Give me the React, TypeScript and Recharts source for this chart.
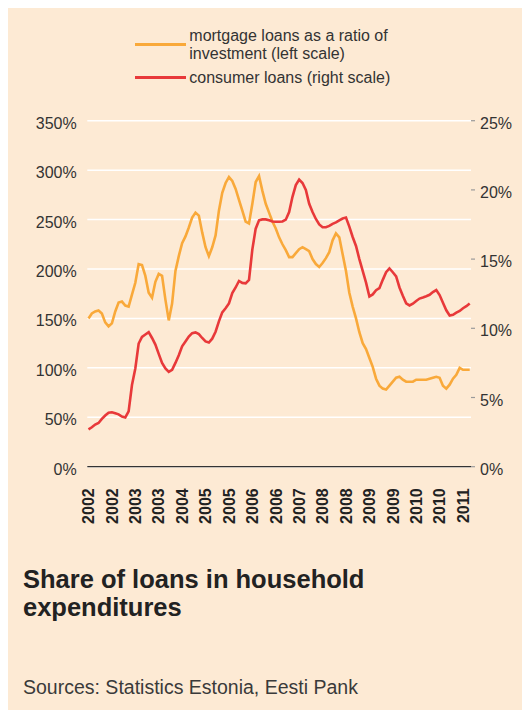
import React from "react";
import { LineChart, Line, XAxis, YAxis, CartesianGrid } from "recharts";

// Monthly observations, March 2002 – September 2011
const months: string[] = [
  "2002-03","2002-04","2002-05","2002-06","2002-07","2002-08","2002-09","2002-10","2002-11","2002-12",
  "2003-01","2003-02","2003-03","2003-04","2003-05","2003-06","2003-07","2003-08","2003-09","2003-10","2003-11","2003-12",
  "2004-01","2004-02","2004-03","2004-04","2004-05","2004-06","2004-07","2004-08","2004-09","2004-10","2004-11","2004-12",
  "2005-01","2005-02","2005-03","2005-04","2005-05","2005-06","2005-07","2005-08","2005-09","2005-10","2005-11","2005-12",
  "2006-01","2006-02","2006-03","2006-04","2006-05","2006-06","2006-07","2006-08","2006-09","2006-10","2006-11","2006-12",
  "2007-01","2007-02","2007-03","2007-04","2007-05","2007-06","2007-07","2007-08","2007-09","2007-10","2007-11","2007-12",
  "2008-01","2008-02","2008-03","2008-04","2008-05","2008-06","2008-07","2008-08","2008-09","2008-10","2008-11","2008-12",
  "2009-01","2009-02","2009-03","2009-04","2009-05","2009-06","2009-07","2009-08","2009-09","2009-10","2009-11","2009-12",
  "2010-01","2010-02","2010-03","2010-04","2010-05","2010-06","2010-07","2010-08","2010-09","2010-10","2010-11","2010-12",
  "2011-01","2011-02","2011-03","2011-04","2011-05","2011-06","2011-07","2011-08","2011-09",
];

// mortgage loans as a ratio of investment, % (left scale)
const mortgage: number[] = [
  150, 155, 157, 158, 155, 146, 142, 145, 157, 166,
  167, 163, 162, 174, 186, 205, 204, 193, 176, 171, 187, 195,
  193, 169, 148, 165, 198, 213, 226, 233, 242, 252, 257, 254,
  237, 222, 213, 222, 234, 259, 277, 287, 293, 289, 281, 270,
  259, 248, 246, 266, 288, 294, 279, 266, 257, 248, 241, 232,
  225, 219, 212, 212, 216, 220, 222, 220, 218, 210, 205, 202,
  206, 211, 217, 229, 236, 232, 215, 198, 176, 162, 150, 136,
  125, 119, 110, 101, 89, 82, 79, 78, 82, 86, 90, 91,
  88, 86, 86, 86, 88, 88, 88, 88, 89, 90, 91, 90,
  82, 79, 83, 89, 93, 100, 98, 98, 98,
];

// consumer loans, % (right scale)
const consumer: number[] = [
  2.7, 2.85, 3.05, 3.16, 3.45, 3.7, 3.9, 3.93, 3.86, 3.78,
  3.62, 3.56, 4.0, 5.9, 7.1, 8.9, 9.38, 9.55, 9.72, 9.3, 8.82, 8.15,
  7.5, 7.1, 6.85, 7.0, 7.5, 8.05, 8.7, 9.05, 9.4, 9.65, 9.7, 9.58,
  9.3, 9.05, 8.97, 9.25, 9.75, 10.5, 11.15, 11.45, 11.8, 12.55, 12.95, 13.42,
  13.28, 13.25, 13.5, 15.7, 17.2, 17.8, 17.87, 17.87, 17.8, 17.72, 17.7, 17.7,
  17.72, 17.85, 18.4, 19.5, 20.35, 20.75, 20.5, 20.0, 19.0, 18.4, 17.9, 17.5,
  17.3, 17.3, 17.4, 17.55, 17.65, 17.8, 17.93, 18.0, 17.35, 16.6, 15.95, 15.0,
  14.15, 13.3, 12.3, 12.45, 12.75, 12.9, 13.5, 14.05, 14.33, 14.05, 13.75, 12.95,
  12.35, 11.8, 11.65, 11.78, 11.97, 12.15, 12.23, 12.32, 12.42, 12.62, 12.76, 12.4,
  11.85, 11.3, 10.92, 10.98, 11.13, 11.25, 11.45, 11.6, 11.8,
];

const leftTicks: number[] = [0, 50, 100, 150, 200, 250, 300, 350];
const rightTicks: number[] = [0, 5, 10, 15, 20, 25];

const legendMortgage = ["mortgage loans as a ratio of", "investment (left scale)"];
const legendConsumer = "consumer loans (right scale)";
const titleLines = ["Share of loans in household", "expenditures"];
const sourceText = "Sources: Statistics Estonia, Eesti Pank";

const data = months.map((m, i) => ({ m, mortgage: mortgage[i], consumer: consumer[i] }));

const FONT = '"Liberation Sans", Arial, Helvetica, sans-serif';
const ORANGE = "#f9a93a";
const RED = "#e8393a";
const BG = "#fdead4";
const TEXT = "#333333";

const LeftTick = (props: any) => {
  const { x, y, payload } = props;
  return (
    <text x={x} y={y} dy={8} textAnchor="end" fill={TEXT} fontSize={16} fontFamily={FONT}>
      {`${payload.value}%`}
    </text>
  );
};

const RightTick = (props: any) => {
  const { x, y, payload } = props;
  return (
    <text x={x} y={y} dy={8} textAnchor="start" fill={TEXT} fontSize={16} fontFamily={FONT}>
      {`${payload.value}%`}
    </text>
  );
};

const XTick = (props: any) => {
  const { x, y, payload } = props;
  const ty = y + 21.6;
  return (
    <text
      x={x}
      y={ty}
      dy="0.36em"
      transform={`rotate(-90, ${x}, ${ty})`}
      textAnchor="end"
      fill="#222"
      fontSize={16}
      fontWeight="bold"
      fontFamily={FONT}
    >
      {String(payload.value).slice(0, 4)}
    </text>
  );
};

export default function App() {
  return (
    <div
      style={{
        position: "relative",
        width: 522,
        height: 702,
        background: BG,
        fontFamily: FONT,
        color: TEXT,
        overflow: "hidden",
      }}
    >
      {/* Legend */}
      <div style={{ position: "absolute", left: 127.2, top: 34.8, width: 51, height: 3, background: ORANGE }} />
      <div style={{ position: "absolute", left: 181.3, top: 18.5, fontSize: 16, lineHeight: "18px", whiteSpace: "nowrap" }}>
        {legendMortgage.map((t) => (
          <div key={t}>{t}</div>
        ))}
      </div>
      <div style={{ position: "absolute", left: 127.2, top: 67.5, width: 51, height: 3, background: RED }} />
      <div style={{ position: "absolute", left: 181.3, top: 60.5, fontSize: 16, lineHeight: "18px", whiteSpace: "nowrap" }}>
        {legendConsumer}
      </div>

      <div style={{ position: "absolute", left: 0, top: 0 }}>
        <LineChart
          width={522}
          height={540}
          data={data}
          margin={{ top: 112.7, right: 0, bottom: 0, left: 0 }}
        >
          <CartesianGrid yAxisId="left" vertical={false} stroke="#ffffff" strokeWidth={1.5} />
          <XAxis
            dataKey="m"
            interval={6}
            height={81.3}
            padding={{ left: 1.2, right: 1.3 }}
            tickLine={false}
            tickSize={0}
            tickMargin={0}
            axisLine={{ stroke: "#333333", strokeWidth: 1.2 }}
            tick={<XTick />}
          />
          <YAxis
            yAxisId="left"
            orientation="left"
            width={79.3}
            domain={[0, 350]}
            ticks={leftTicks}
            axisLine={false}
            tickLine={false}
            tickSize={0}
            tickMargin={10.6}
            tick={<LeftTick />}
          />
          <YAxis
            yAxisId="right"
            orientation="right"
            width={59}
            domain={[0, 25]}
            ticks={rightTicks}
            axisLine={false}
            tickLine={{ stroke: "#9a9a9a", strokeWidth: 1.2 }}
            tickSize={4}
            tickMargin={5}
            tick={<RightTick />}
          />
          <Line
            yAxisId="left"
            type="linear"
            dataKey="mortgage"
            stroke={ORANGE}
            strokeWidth={2.6}
            dot={false}
            activeDot={false}
            isAnimationActive={false}
          />
          <Line
            yAxisId="right"
            type="linear"
            dataKey="consumer"
            stroke={RED}
            strokeWidth={2.6}
            dot={false}
            activeDot={false}
            isAnimationActive={false}
          />
        </LineChart>
      </div>

      {/* Title */}
      <div
        style={{
          position: "absolute",
          left: 15,
          top: 556.8,
          fontSize: 25.5,
          lineHeight: "28px",
          fontWeight: "bold",
          color: "#222",
          whiteSpace: "nowrap",
        }}
      >
        {titleLines.map((t) => (
          <div key={t}>{t}</div>
        ))}
      </div>

      {/* Source */}
      <div
        style={{
          position: "absolute",
          left: 15,
          top: 667.8,
          fontSize: 19.5,
          lineHeight: "22px",
          color: "#3a3a3a",
          whiteSpace: "nowrap",
        }}
      >
        {sourceText}
      </div>
    </div>
  );
}
